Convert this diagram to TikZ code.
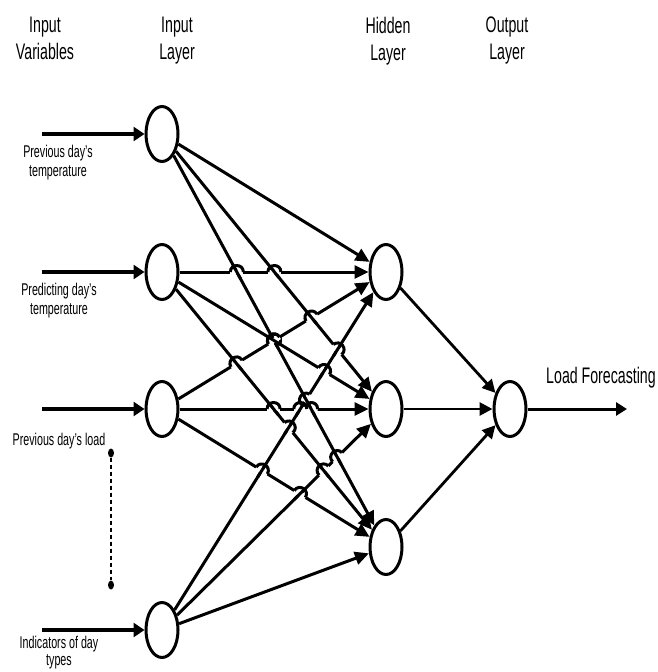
\documentclass[tikz,border=0pt]{standalone}
\usepackage{fontspec}
\setmainfont[FakeStretch=0.63]{Liberation Sans}
\usetikzlibrary{arrows.meta,calc,shapes.geometric}
\def\IYlist{{134,272,409,630}}
\def\HYlist{{272,409,547}}
\newcommand\hopat[6]{%
  \coordinate (hopP) at (#1,#2);
  \coordinate (hopA) at ($(hopP)!6.5pt!(#3)$);
  \coordinate (hopB) at ($(hopP)!6.5pt!(#4)$);
  \draw[white, line width=4.6pt] (hopA) -- (hopB);
  \draw[wire] ($(hopP)!8pt!(#5)$) -- ($(hopP)!8pt!(#6)$);
  \draw[wire] (hopA) to[bend left=90, looseness=1.7] (hopB);
}
\begin{document}
\begin{tikzpicture}[x=1pt,y=-1pt,
  neuron/.style={draw, ellipse, line width=3pt, minimum width=32pt, minimum height=55pt, inner sep=0pt},
  wire/.style={line width=3pt},
  conn/.style={wire, -{Triangle[length=14pt,width=13pt]}},
  inarrow/.style={line width=4.2pt, -{Triangle[length=11pt,width=14pt]}},
  outconn/.style={line width=2.8pt, -{Triangle[length=13pt,width=13pt]}},
  head/.style={font=\fontsize{22.5}{27}\selectfont, align=center, inner sep=0pt, anchor=north},
  lab/.style={font=\fontsize{17}{19}\selectfont, align=center, inner sep=0pt, anchor=north},
  dotn/.style={fill, ellipse, minimum width=6pt, minimum height=9pt, inner sep=0pt}]
\useasboundingbox (0,0) rectangle (658,672);

% headings
\node[head] (t1) at (45,17) {Input\\Variables};
\node[head] (t2) at (177,17) {Input\\Layer};
\node[head] (t3) at (388,17) {Hidden\\Layer};
\node[head] (t4) at (507,17) {Output\\Layer};

% neurons
\node[neuron] (I1) at (162,134) {};
\node[neuron] (I2) at (162,272) {};
\node[neuron] (I3) at (162,409) {};
\node[neuron] (I4) at (162,630) {};
\node[neuron] (H1) at (386,272) {};
\node[neuron] (H2) at (386,409) {};
\node[neuron] (H3) at (386,547) {};
\node[neuron] (O)  at (510,409) {};

% input arrows
\coordinate (s1) at (42,134);
\coordinate (s2) at (42,272);
\coordinate (s3) at (42,409);
\coordinate (s4) at (42,630);
\foreach \n in {1,2,3,4}{\draw[inarrow] (s\n) -- (I\n);}

% input labels
\node[lab] (l1) at (58,145) {Previous day’s\\temperature};
\node[lab] (l2) at (59,283) {Predicting day’s\\temperature};
\node[lab] (l3) at (59,433) {Previous day’s load};
\node[lab, font=\fontsize{17}{17}\selectfont] (l4) at (59,636) {Indicators of day\\types};

% dotted continuation
\node[dotn] (d1) at (111,453) {};
\node[dotn] (d2) at (111,585) {};
\draw[line width=1.3pt, dash pattern=on 4pt off 3pt] (d1) -- (d2);

% input -> hidden
\foreach \i in {1,2,3,4}{
  \foreach \h in {1,2,3}{
    \draw[conn] (I\i) -- (H\h);
  }}

% line hops at crossings
\foreach \i in {1,2,3}{
 \foreach \j in {2,3,4}{
  \ifnum\j>\i
   \foreach \h in {2,3}{
    \foreach \k in {1,2}{
     \ifnum\h>\k
       \pgfmathsetmacro\ai{\IYlist[\i-1]}
       \pgfmathsetmacro\bi{\HYlist[\h-1]}
       \pgfmathsetmacro\aj{\IYlist[\j-1]}
       \pgfmathsetmacro\bj{\HYlist[\k-1]}
       \pgfmathsetmacro\crossT{(\aj-\ai)/((\bi-\ai)-(\bj-\aj))}
       \pgfmathsetmacro\px{162+224*\crossT}
       \pgfmathsetmacro\py{\ai+\crossT*(\bi-\ai)}
       \pgfmathsetmacro\si{abs(\bi-\ai)}
       \pgfmathsetmacro\sj{abs(\bj-\aj)}
       \ifdim\si pt<\sj pt
         \hopat{\px}{\py}{I\i}{H\h}{I\j}{H\k}
       \else
         \hopat{\px}{\py}{I\j}{H\k}{I\i}{H\h}
       \fi
     \fi
    }}
  \fi
 }}

% hidden -> output
\foreach \h in {1,2,3}{\draw[outconn] (H\h) -- (O);}

% output
\coordinate (e) at (627,409);
\draw[line width=3pt, -{Triangle[length=11pt,width=13pt]}] (O) -- (e);
\node[head] (lf) at (601,367) {Load Forecasting};
\end{tikzpicture}
\end{document}
